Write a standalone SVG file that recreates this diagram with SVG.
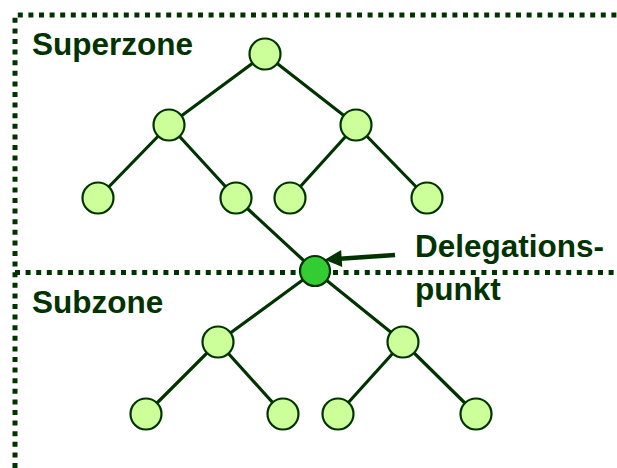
<svg xmlns="http://www.w3.org/2000/svg" width="617" height="468" viewBox="0 0 617 468">
  <style>
    .zone { stroke: #003300; stroke-width: 5; stroke-dasharray: 5 5.6; fill: none; }
    .edge { stroke: #003300; stroke-width: 3.2; stroke-linecap: round; fill: none; }
    .node { fill: #ccff99; stroke: #003300; stroke-width: 2.2; }
    .deleg { fill: #33cc33; stroke: #003300; stroke-width: 2.2; }
    .label { font-family: "Liberation Sans", Arial, sans-serif; font-weight: bold; font-size: 31.5px; fill: #003300; }
  </style>
  <defs>
    <marker id="arrowhead" viewBox="0 0 10 10" refX="1" refY="5" markerWidth="4.4" markerHeight="3.8" markerUnits="strokeWidth" orient="auto-start-reverse">
      <path d="M0,0 L10,5 L0,10 z" fill="#003300"/>
    </marker>
  </defs>
  <rect width="617" height="468" fill="#ffffff"/>

  <!-- zone boundaries -->
  <g id="zones">
    <path class="zone" d="M15,468 L15,15 L617,15"/>
    <path class="zone" d="M15,272.5 L617,272.5"/>
  </g>

  <!-- tree connectors -->
  <g id="connectors">
    <line class="edge" x1="265" y1="54" x2="169" y2="125"/>
    <line class="edge" x1="265" y1="54" x2="356" y2="125"/>
    <line class="edge" x1="169" y1="125" x2="98" y2="198"/>
    <line class="edge" x1="169" y1="125" x2="236" y2="198"/>
    <line class="edge" x1="356" y1="125" x2="290" y2="198"/>
    <line class="edge" x1="356" y1="125" x2="427" y2="198"/>
    <line class="edge" x1="236" y1="198" x2="315" y2="271"/>
    <line class="edge" x1="315" y1="271" x2="218" y2="342"/>
    <line class="edge" x1="315" y1="271" x2="403" y2="342"/>
    <line class="edge" x1="218" y1="342" x2="146" y2="414"/>
    <line class="edge" x1="218" y1="342" x2="283" y2="414"/>
    <line class="edge" x1="403" y1="342" x2="338" y2="414"/>
    <line class="edge" x1="403" y1="342" x2="476" y2="414"/>
    <line x1="395" y1="255" x2="340" y2="258.7" stroke="#003300" stroke-width="4.5" marker-end="url(#arrowhead)"/>
  </g>

  <!-- superzone nodes -->
  <g id="n-root"><circle class="node" cx="265" cy="54" r="15.5"/></g>
  <g id="n-l1"><circle class="node" cx="169" cy="125" r="15.5"/></g>
  <g id="n-r1"><circle class="node" cx="356" cy="125" r="15.5"/></g>
  <g id="n-l1a"><circle class="node" cx="98" cy="198" r="15.5"/></g>
  <g id="n-l1b"><circle class="node" cx="236" cy="198" r="15.5"/></g>
  <g id="n-r1a"><circle class="node" cx="290" cy="198" r="15.5"/></g>
  <g id="n-r1b"><circle class="node" cx="427" cy="198" r="15.5"/></g>

  <!-- delegation point -->
  <g id="n-deleg"><circle class="deleg" cx="315" cy="271" r="15"/></g>

  <!-- subzone nodes -->
  <g id="n-s1"><circle class="node" cx="218" cy="342" r="15.5"/></g>
  <g id="n-s2"><circle class="node" cx="403" cy="342" r="15.5"/></g>
  <g id="n-s1a"><circle class="node" cx="146" cy="414" r="15.5"/></g>
  <g id="n-s1b"><circle class="node" cx="283" cy="414" r="15.5"/></g>
  <g id="n-s2a"><circle class="node" cx="338" cy="414" r="15.5"/></g>
  <g id="n-s2b"><circle class="node" cx="476" cy="414" r="15.5"/></g>

  <!-- labels -->
  <g id="labels">
    <text class="label" x="32" y="55">Superzone</text>
    <text class="label" x="32" y="313">Subzone</text>
    <text class="label" x="415" y="257">Delegations-</text>
    <text class="label" x="415" y="300">punkt</text>
  </g>
</svg>
